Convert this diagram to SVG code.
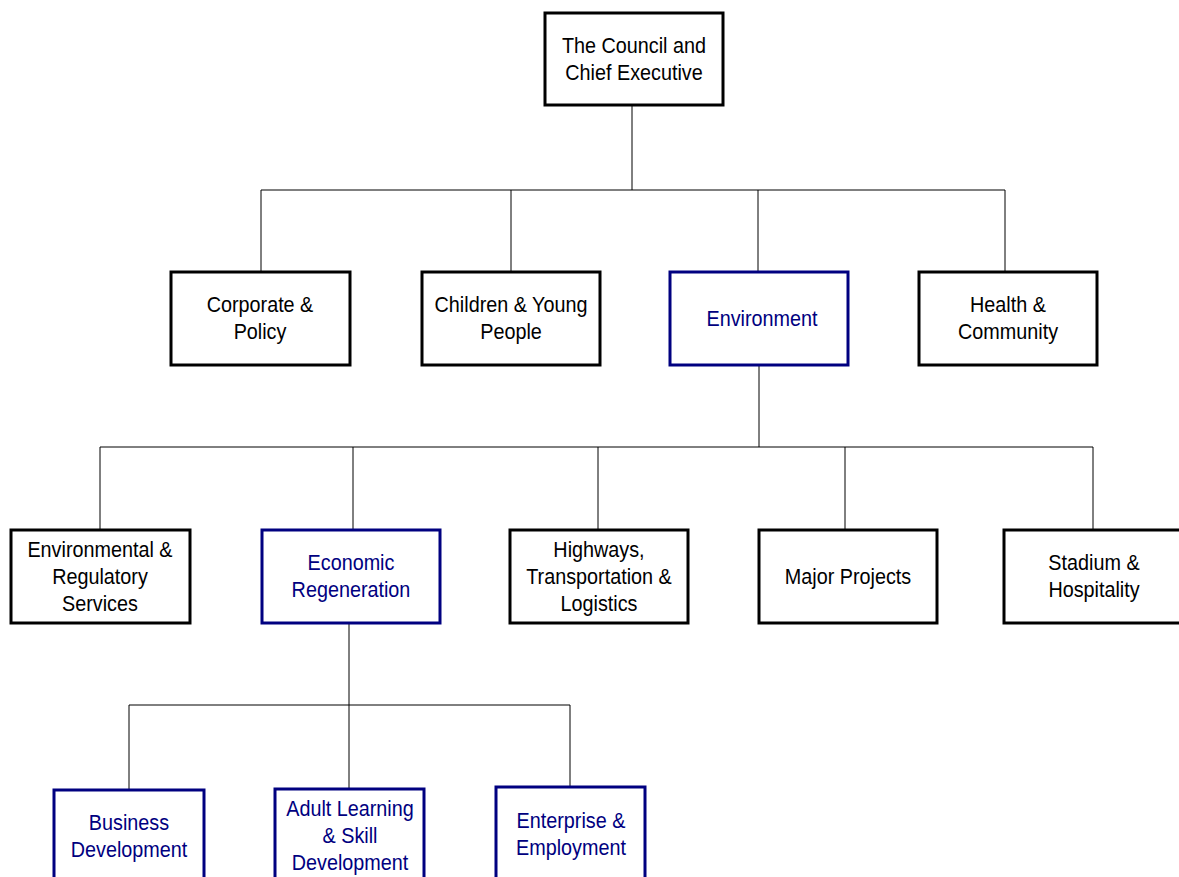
<svg xmlns="http://www.w3.org/2000/svg" width="1179" height="877" viewBox="0 0 1179 877">
<style>
.b{fill:#fff;stroke:#000;stroke-width:3}
.bb{fill:#fff;stroke:#000080;stroke-width:3}
.t{font-family:"Liberation Sans",Arial,sans-serif;font-size:22px;fill:#000;text-anchor:middle;dominant-baseline:central;transform-box:fill-box;transform-origin:center;transform:scaleX(0.9)}
.tb{fill:#000080}
.c{fill:none;stroke:#000;stroke-width:1}
</style>
<rect width="1179" height="877" fill="#fff"/>
<g id="connectors">
<path class="c" d="M632 106V190M261 190H1005M261 190V272M511 190V272M758 190V272M1005 190V272"/>
<path class="c" d="M759 365V447M100 447H1093M100 447V530M353 447V530M598 447V530M845 447V530M1093 447V530"/>
<path class="c" d="M349 623V705M129 705H570M129 705V790M349 705V789M570 705V787"/>
</g>
<g id="n-council"><rect class="b" x="545" y="13" width="178" height="92"/><text class="t" x="634" y="45">The Council and</text><text class="t" x="634" y="72">Chief Executive</text></g>
<g id="n-corporate"><rect class="b" x="171" y="272" width="179" height="93"/><text class="t" x="260" y="304">Corporate &amp;</text><text class="t" x="260" y="331">Policy</text></g>
<g id="n-children"><rect class="b" x="422" y="272" width="178" height="93"/><text class="t" x="511" y="304">Children &amp; Young</text><text class="t" x="511" y="331">People</text></g>
<g id="n-environment"><rect class="bb" x="670" y="272" width="178" height="93"/><text class="t tb" x="762" y="318">Environment</text></g>
<g id="n-health"><rect class="b" x="919" y="272" width="178" height="93"/><text class="t" x="1008" y="304">Health &amp;</text><text class="t" x="1008" y="331">Community</text></g>
<g id="n-envreg"><rect class="b" x="11" y="530" width="179" height="93"/><text class="t" x="100" y="549">Environmental &amp;</text><text class="t" x="100" y="576">Regulatory</text><text class="t" x="100" y="603">Services</text></g>
<g id="n-econ"><rect class="bb" x="262" y="530" width="178" height="93"/><text class="t tb" x="351" y="562">Economic</text><text class="t tb" x="351" y="589">Regeneration</text></g>
<g id="n-highways"><rect class="b" x="510" y="530" width="178" height="93"/><text class="t" x="599" y="549">Highways,</text><text class="t" x="599" y="576">Transportation &amp;</text><text class="t" x="599" y="603">Logistics</text></g>
<g id="n-major"><rect class="b" x="759" y="530" width="178" height="93"/><text class="t" x="848" y="576">Major Projects</text></g>
<g id="n-stadium"><rect class="b" x="1004" y="530" width="180" height="93"/><text class="t" x="1094" y="562">Stadium &amp;</text><text class="t" x="1094" y="589">Hospitality</text></g>
<g id="n-business"><rect class="bb" x="54" y="790" width="150" height="95"/><text class="t tb" x="129" y="822">Business</text><text class="t tb" x="129" y="849">Development</text></g>
<g id="n-adult"><rect class="bb" x="275" y="789" width="149" height="95"/><text class="t tb" x="350" y="808">Adult Learning</text><text class="t tb" x="350" y="835">&amp; Skill</text><text class="t tb" x="350" y="862">Development</text></g>
<g id="n-enterprise"><rect class="bb" x="496" y="787" width="149" height="95"/><text class="t tb" x="571" y="820">Enterprise &amp;</text><text class="t tb" x="571" y="847">Employment</text></g>
</svg>
